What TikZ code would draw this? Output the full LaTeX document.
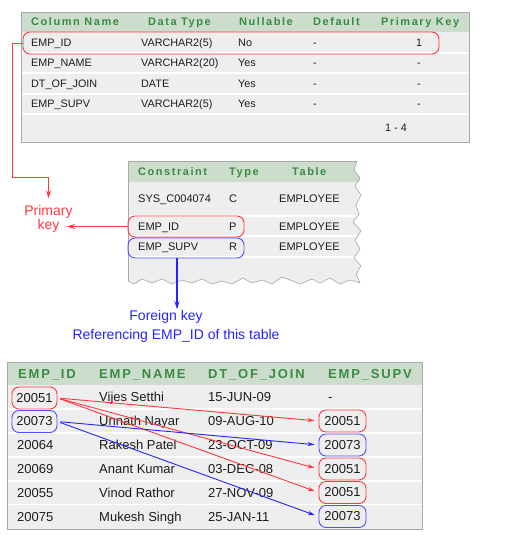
\documentclass[tikz,border=0pt]{standalone}
\usepackage{fontspec}
\setmainfont{Liberation Sans}
\newfontfamily\hdf[LetterSpace=14]{Liberation Sans}
\usetikzlibrary{arrows.meta}
\definecolor{hdbg}{RGB}{205,221,205}
\definecolor{hdtx}{RGB}{58,138,66}
\definecolor{rowbg}{RGB}{238,238,238}
\definecolor{bord}{RGB}{168,168,168}
\definecolor{myred}{RGB}{255,56,64}
\definecolor{myblue}{RGB}{36,36,255}
\definecolor{txt}{RGB}{28,28,28}
\begin{document}
\begin{tikzpicture}[x=1pt,y=-1pt,
  hA/.style={anchor=west,text=hdtx,font=\hdf\bfseries\fontsize{11}{13}\selectfont,inner sep=0pt,text height=10.1pt,text depth=2.2pt},
  hC/.style={anchor=west,text=hdtx,font=\hdf\bfseries\fontsize{13}{15}\selectfont,inner sep=0pt,text height=11.9pt,text depth=2.6pt},
  dA/.style={anchor=west,text=txt,font=\fontsize{10.8}{13}\selectfont,inner sep=0pt,text height=9.9pt,text depth=2.16pt},
  dB/.style={anchor=west,text=txt,font=\fontsize{11}{13}\selectfont,inner sep=0pt,text height=10.1pt,text depth=2.2pt},
  dC/.style={anchor=west,text=txt,font=\fontsize{13}{15}\selectfont,inner sep=0pt,text height=11.9pt,text depth=2.6pt},
  sep/.style={draw=white,line width=1.3pt},
  redbox/.style={draw=myred,line width=0.9pt,rounded corners=7pt,inner sep=0pt},
  bluebox/.style={draw=myblue!80,line width=0.9pt,rounded corners=7pt,inner sep=0pt},
  cellbox/.style={minimum width=45pt,minimum height=22pt,text=txt,font=\fontsize{13}{15}\selectfont},
  supbox/.style={minimum width=47pt,minimum height=22pt,text=txt,font=\fontsize{13}{15}\selectfont},
  redln/.style={draw=myred,line width=1.1pt},
  blueln/.style={draw=myblue,line width=1.1pt},
  tip/.style={-{Stealth[length=8pt,width=5pt]}},
  smalltip/.style={-{Stealth[length=7pt,width=4pt]}},
  lbl/.style={font=\fontsize{14}{14}\selectfont,inner sep=1pt,align=center}
]
\useasboundingbox (0,0) rectangle (515,549);

% ---------------- Table 1 ----------------
\fill[rowbg] (21,12) rectangle (469,142);
\fill[hdbg] (21,12) rectangle (469,32);
\foreach \yy in {53,73,94,114} \draw[sep] (21,\yy) -- (469,\yy);
\draw[bord,line width=0.8pt] (21,12) rectangle (469,142);
\node[hA] (t1h1) at (31,22) {Column Name};
\node[hA] (t1h2) at (148,22) {Data Type};
\node[hA] (t1h3) at (239,22) {Nullable};
\node[hA] (t1h4) at (313,22) {Default};
\node[hA] (t1h5) at (381,22) {Primary Key};
\node[dA] (t1a1) at (31,43) {EMP\_ID};
\node[dA] (t1b1) at (141,43) {VARCHAR2(5)};
\node[dA] (t1c1) at (238,43) {No};
\node[dA] (t1d1) at (313,43) {-};
\node[dA,anchor=center] (t1e1) at (419,43) {1};
\node[dA] (t1a2) at (31,63) {EMP\_NAME};
\node[dA] (t1b2) at (141,63) {VARCHAR2(20)};
\node[dA] (t1c2) at (238,63) {Yes};
\node[dA] (t1d2) at (313,63) {-};
\node[dA,anchor=center] (t1e2) at (419,63) {-};
\node[dA] (t1a3) at (31,84) {DT\_OF\_JOIN};
\node[dA] (t1b3) at (141,84) {DATE};
\node[dA] (t1c3) at (238,84) {Yes};
\node[dA] (t1d3) at (313,84) {-};
\node[dA,anchor=center] (t1e3) at (419,84) {-};
\node[dA] (t1a4) at (31,104) {EMP\_SUPV};
\node[dA] (t1b4) at (141,104) {VARCHAR2(5)};
\node[dA] (t1c4) at (238,104) {Yes};
\node[dA] (t1d4) at (313,104) {-};
\node[dA,anchor=center] (t1e4) at (419,104) {-};
\node[dA,anchor=center] (t1ft) at (396,128) {1 - 4};
\node[redbox,minimum width=416pt,minimum height=22pt] (t1pk) at (231,43) {};

% ---------------- Table 2 (torn) ----------------
\path[fill=rowbg] (128,161) -- (357,161) -- (354,170) -- (360,178) -- (355,186) -- (361,195) -- (356,205)
  -- (359,214) -- (353,222) -- (361,231) -- (355,240) -- (360,249) -- (354,258) -- (361,266) -- (356,274) -- (360,283)
  -- (350,280) -- (340,284) -- (330,278) -- (320,283) -- (312,279) -- (300,284) -- (290,280) -- (282,277)
  -- (272,284) -- (262,280) -- (252,283) -- (243,278) -- (232,284) -- (222,281) -- (212,284) -- (202,279)
  -- (192,283) -- (182,280) -- (172,284) -- (162,279) -- (152,283) -- (142,279) -- (134,284) -- (128,281) -- cycle;
\path[fill=hdbg] (128,161) -- (357,161) -- (354,170) -- (360,178) -- (359,182) -- (128,182) -- cycle;
\foreach \yy in {216,236,257} \draw[sep] (128,\yy) -- (357,\yy);
\draw[bord,line width=0.8pt] (128,281) -- (128,161) -- (357,161);
\draw[gray!70,line width=0.6pt] (357,161) -- (354,170) -- (360,178) -- (355,186) -- (361,195) -- (356,205)
  -- (359,214) -- (353,222) -- (361,231) -- (355,240) -- (360,249) -- (354,258) -- (361,266) -- (356,274) -- (360,283)
  -- (350,280) -- (340,284) -- (330,278) -- (320,283) -- (312,279) -- (300,284) -- (290,280) -- (282,277)
  -- (272,284) -- (262,280) -- (252,283) -- (243,278) -- (232,284) -- (222,281) -- (212,284) -- (202,279)
  -- (192,283) -- (182,280) -- (172,284) -- (162,279) -- (152,283) -- (142,279) -- (134,284) -- (128,281);
\node[hA] (t2h1) at (138,172) {Constraint};
\node[hA] (t2h2) at (229,172) {Type};
\node[hA] (t2h3) at (292,172) {Table};
\node[dB] (t2a1) at (138,199) {SYS\_C004074};
\node[dB] (t2b1) at (229,199) {C};
\node[dB] (t2c1) at (279,199) {EMPLOYEE};
\node[dB] (t2a2) at (138,226.5) {EMP\_ID};
\node[dB] (t2b2) at (229,226.5) {P};
\node[dB] (t2c2) at (279,226.5) {EMPLOYEE};
\node[dB] (t2a3) at (138,247) {EMP\_SUPV};
\node[dB] (t2b3) at (229,247) {R};
\node[dB] (t2c3) at (279,247) {EMPLOYEE};
\node[redbox,minimum width=116pt,minimum height=21pt] (t2pk) at (186,226.5) {};
\node[bluebox,minimum width=116pt,minimum height=20pt] (t2fk) at (186,248) {};

% ---------------- Labels and connectors ----------------
\node[lbl,text=myred] (pk) at (48.5,219) {Primary\\key};
\coordinate (pkbend) at (12,177);
\coordinate (pkend) at (67,226.5);
\draw[redln,line width=1pt,tip,shorten >=6pt] (t1pk.west) -| (pkbend) -| (pk.north);
\draw[redln,line width=1.4pt,tip] (t2pk.west) -- (pkend);
\node[lbl,text=myblue] (fk1) at (166,317) {Foreign key};
\node[lbl,text=myblue] (fk2) at (176,336) {Referencing EMP\_ID of this table};
\draw[blueln,line width=1.4pt,tip] ([xshift=-9pt]t2fk.south) -- ([xshift=-9pt]t2fk.south |- fk1.north);

% ---------------- Table 3 ----------------
\fill[rowbg] (7,362) rectangle (422,529);
\fill[hdbg] (7,362) rectangle (422,385);
\foreach \yy in {409,433,457,481,504.5} \draw[sep] (7,\yy) -- (422,\yy);
\draw[bord,line width=0.8pt] (7,362) rectangle (422,529);
\node[hC] (t3h1) at (18,374) {EMP\_ID};
\node[hC] (t3h2) at (99,374) {EMP\_NAME};
\node[hC] (t3h3) at (208,374) {DT\_OF\_JOIN};
\node[hC] (t3h4) at (328,374) {EMP\_SUPV};

\node[redbox,cellbox] (id1) at (34.5,398) {20051};
\node[bluebox,cellbox] (id2) at (34.5,421.5) {20073};
\node[dC] (id3) at (17,445) {20064};
\node[dC] (id4) at (17,469) {20069};
\node[dC] (id5) at (17,493) {20055};
\node[dC] (id6) at (17,517) {20075};

\node[dC] (n1) at (99,397) {Vijes Setthi};
\node[dC] (n2) at (99,421) {Unnath Nayar};
\node[dC] (n3) at (99,445) {Rakesh Patel};
\node[dC] (n4) at (99,469) {Anant Kumar};
\node[dC] (n5) at (99,493) {Vinod Rathor};
\node[dC] (n6) at (99,517) {Mukesh Singh};

\node[dC] (d1) at (208,397) {15-JUN-09};
\node[dC] (d2) at (208,421) {09-AUG-10};
\node[dC] (d3) at (208,445) {23-OCT-09};
\node[dC] (d4) at (208,469) {03-DEC-08};
\node[dC] (d5) at (208,493) {27-NOV-09};
\node[dC] (d6) at (208,517) {25-JAN-11};

\node[dC] (s1) at (328,397) {-};
\node[redbox,supbox] (s2) at (342.5,421) {20051};
\node[bluebox,supbox] (s3) at (342.5,445) {20073};
\node[redbox,supbox] (s4) at (342.5,469) {20051};
\node[redbox,supbox] (s5) at (342.5,492.5) {20051};
\node[bluebox,supbox] (s6) at (342.5,516.5) {20073};

\draw[redln,line width=0.9pt,smalltip,shorten <=3pt,shorten >=4pt] (id1.east) -- (s2.west);
\draw[redln,line width=0.9pt,smalltip,shorten <=3pt,shorten >=4pt] (id1.east) -- (s4.west);
\draw[redln,line width=0.9pt,smalltip,shorten <=3pt,shorten >=4pt] (id1.east) -- (s5.west);
\draw[blueln,line width=0.9pt,smalltip,shorten <=3pt,shorten >=4pt] (id2.east) -- (s3.west);
\draw[blueln,line width=0.9pt,smalltip,shorten <=3pt,shorten >=4pt] (id2.east) -- (s6.west);
\end{tikzpicture}
\end{document}
